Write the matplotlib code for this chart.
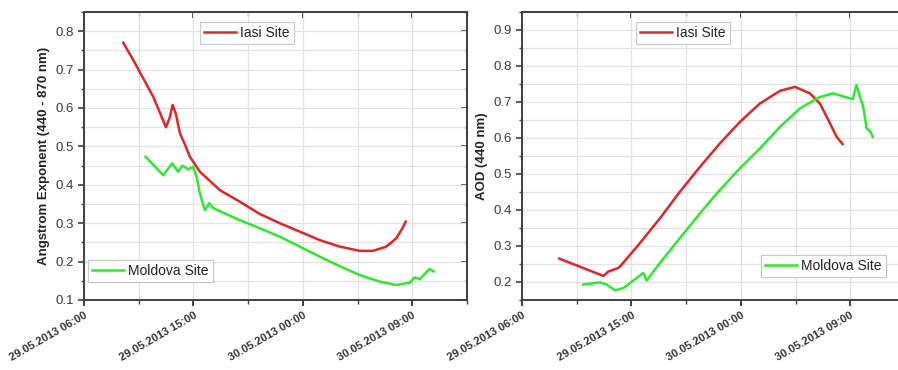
import datetime as dt
import matplotlib
matplotlib.use("Agg")
import matplotlib.pyplot as plt
import matplotlib.dates as mdates
from matplotlib.ticker import MultipleLocator, NullFormatter

plt.rcParams['font.family'] = ['Liberation Sans', 'DejaVu Sans']

START = dt.datetime(2013, 5, 29, 6, 0)

# hours after 29.05.2013 06:00
ae_iasi_h = [3.23, 4.05, 5.70, 6.74, 7.05, 7.29, 7.55, 7.89, 8.30, 8.71, 9.53,
             11.18, 12.82, 14.46, 16.10, 17.75, 19.39, 21.04, 22.68, 23.77, 24.87,
             25.69, 26.19, 26.46]
ae_iasi = [0.770, 0.725, 0.629, 0.550, 0.575, 0.608, 0.585, 0.534, 0.505, 0.473, 0.434,
           0.386, 0.356, 0.324, 0.300, 0.278, 0.256, 0.239, 0.228, 0.228, 0.239,
           0.261, 0.287, 0.304]

ae_mold_h = [5.07, 6.52, 7.25, 7.75, 8.10, 8.57, 8.98, 9.26, 9.53, 9.94, 10.30, 10.63,
             12.82, 14.46, 16.10, 17.75, 19.39, 21.04, 22.68, 24.32, 25.69, 26.79,
             27.20, 27.60, 28.43, 28.76]
ae_mold = [0.473, 0.425, 0.456, 0.434, 0.450, 0.440, 0.447, 0.421, 0.378, 0.334, 0.352, 0.339,
           0.308, 0.287, 0.265, 0.239, 0.213, 0.188, 0.165, 0.148, 0.139, 0.145,
           0.159, 0.154, 0.181, 0.174]

aod_iasi_h = [3.07, 6.69, 7.10, 7.92, 8.06, 9.70, 11.35, 12.99, 14.64, 16.28, 17.93,
              19.57, 21.22, 22.45, 23.68, 24.50, 25.33, 25.88, 26.37]
aod_iasi = [0.265, 0.217, 0.229, 0.239, 0.243, 0.308, 0.377, 0.451, 0.520, 0.585, 0.645,
            0.696, 0.731, 0.742, 0.724, 0.696, 0.641, 0.603, 0.583]

aod_mold_h = [5.04, 6.41, 6.96, 7.65, 8.33, 8.88, 9.43, 9.98, 10.25, 11.35, 12.99, 14.64,
              16.28, 17.93, 19.57, 21.22, 22.86, 24.50, 25.60, 26.97, 27.20, 27.50,
              28.07, 28.34, 28.68, 28.85]
aod_mold = [0.193, 0.199, 0.193, 0.177, 0.183, 0.197, 0.211, 0.225, 0.204, 0.253, 0.322, 0.391,
            0.456, 0.516, 0.571, 0.631, 0.682, 0.714, 0.724, 0.710, 0.708, 0.747,
            0.686, 0.627, 0.617, 0.603]

RED = '#e02525'
GREEN = '#2ee82e'
SPINE = '#404040'


def to_time(hours):
    return [START + dt.timedelta(hours=h) for h in hours]


def style_axes(ax, ylim, ylabel):
    ax.set_xlim(START, START + dt.timedelta(hours=31.5))
    ax.set_ylim(*ylim)
    ticks = mdates.date2num([START + dt.timedelta(hours=9 * i) for i in range(4)])
    minor = mdates.date2num([START + dt.timedelta(hours=4.5 + 9 * i) for i in range(4)])
    ax.set_xticks(ticks)
    ax.set_xticks(minor, minor=True)
    ax.xaxis.set_major_formatter(mdates.DateFormatter('%d.%m.%Y %H:%M'))
    ax.yaxis.set_major_locator(MultipleLocator(0.1))
    ax.yaxis.set_minor_locator(MultipleLocator(0.05))
    ax.grid(True, which='both', color='#e2e2e2', lw=0.9)
    ax.set_axisbelow(True)
    for s in ax.spines.values():
        s.set_color(SPINE)
        s.set_linewidth(1.4)
    ax.tick_params(axis='y', which='both', direction='out', color=SPINE,
                   labelsize=9.5, labelcolor='#3a3a3a')
    ax.tick_params(axis='y', which='major', length=4, width=1.2)
    ax.tick_params(axis='y', which='minor', length=2.5, width=1)
    ax.tick_params(axis='x', which='both', direction='out', color=SPINE)
    ax.tick_params(axis='x', which='major', length=4, width=1.4)
    ax.tick_params(axis='x', which='minor', length=3, width=1)
    for t in ax.get_xticklabels():
        t.set_rotation(30)
        t.set_ha('right')
        t.set_rotation_mode('anchor')
        t.set_fontweight('bold')
        t.set_fontsize(8)
        t.set_color('#333333')
    ax.set_ylabel(ylabel, fontsize=9.5, fontweight='bold', color='#222222')

    # inward ticks on the top and right frame
    top = ax.secondary_xaxis('top')
    top.set_xticks(ticks)
    top.set_xticks(minor, minor=True)
    top.xaxis.set_major_formatter(NullFormatter())
    top.tick_params(which='both', direction='in', color=SPINE)
    top.tick_params(which='major', length=4, width=1.4)
    top.tick_params(which='minor', length=3, width=1)
    top.spines['top'].set_color(SPINE)
    top.spines['top'].set_linewidth(1.4)
    right = ax.secondary_yaxis('right')
    right.yaxis.set_major_locator(MultipleLocator(0.1))
    right.yaxis.set_minor_locator(MultipleLocator(0.05))
    right.yaxis.set_major_formatter(NullFormatter())
    right.tick_params(which='both', direction='in', color=SPINE)
    right.tick_params(which='major', length=4, width=1.2)
    right.tick_params(which='minor', length=2.5, width=1)
    right.spines['right'].set_color(SPINE)
    right.spines['right'].set_linewidth(1.4)


fig = plt.figure(figsize=(8.98, 3.70), dpi=100)
ax1 = fig.add_axes([84 / 898, 70 / 370, 383 / 898, 288 / 370])
ax2 = fig.add_axes([522 / 898, 70 / 370, 383 / 898, 288 / 370])

l1, = ax1.plot(to_time(ae_iasi_h), ae_iasi, color=RED, lw=1.8)
l2, = ax1.plot(to_time(ae_mold_h), ae_mold, color=GREEN, lw=1.8)
style_axes(ax1, (0.1, 0.85), 'Angstrom Exponent (440 - 870 nm)')

r1, = ax2.plot(to_time(aod_iasi_h), aod_iasi, color=RED, lw=1.8)
r2, = ax2.plot(to_time(aod_mold_h), aod_mold, color=GREEN, lw=1.8)
style_axes(ax2, (0.15, 0.95), 'AOD (440 nm)')

leg_kw = dict(fontsize=10, fancybox=False, edgecolor='#c8c8c8', framealpha=1,
              borderaxespad=0, handlelength=2.3, borderpad=0.3, handletextpad=0.3)


def add_legend(ax, line, label, loc, anchor):
    leg = ax.legend([line], [label], loc=loc, bbox_to_anchor=anchor, **leg_kw)
    leg.get_frame().set_linewidth(0.8)
    for t in leg.get_texts():
        t.set_color('#222222')
    ax.add_artist(leg)


add_legend(ax1, l1, 'Iasi Site', 'upper left', (0.303, 0.965))
add_legend(ax1, l2, 'Moldova Site', 'lower left', (0.010, 0.0625))
add_legend(ax2, r1, 'Iasi Site', 'upper left', (0.298, 0.965))
add_legend(ax2, r2, 'Moldova Site', 'lower left', (0.624, 0.08))

fig.savefig('out.png', dpi=100)
